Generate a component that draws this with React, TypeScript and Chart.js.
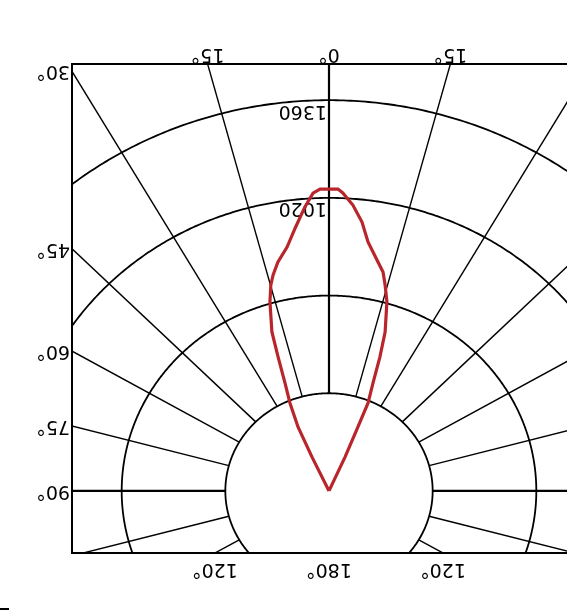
import React, { useEffect, useRef } from 'react';
import { Chart, registerables } from 'chart.js';

Chart.register(...registerables);

// Intensity rings (cd) and the radial grid step (degrees)
const ringValues = [340, 680, 1020, 1360];
const labeledRings = [1020, 1360];
const radialStep = 15;

// Angle labels placed where the radial lines meet the frame
const sideAngles = [30, 45, 60, 75, 90];
const topAngles = [-15, 0, 15];
const bottomAngles = [-120, 180, 120];

// Axis extents (cd)
const xExtent = 843;
const yMax = 1486;
const yMin = -216;

// Luminous intensity curve, left half (angles measured from the 0° axis)
const anglesLeft = [25.3, 24.5, 22.7, 21.0, 19.7, 18.7, 16.4, 14.9, 13.7, 11.9, 9.2, 6.9, 4.6, 2.9, 1.6];
const intensityLeft = [131, 245, 332, 403, 495, 584, 686, 742, 774, 814, 860, 922, 991, 1038, 1051];
// Peak
const peakAngle = 0;
const peakIntensity = 1051;
// Right half
const anglesRight = [1.6, 2.5, 4.5, 6.6, 8.4, 11.4, 13.1, 14.4, 16.1, 18.4, 19.7, 21.0, 22.7, 23.1, 24.0];
const intensityRight = [1051, 1038, 998, 942, 876, 813, 782, 740, 685, 583, 495, 403, 332, 242, 129];

const toXY = (deg: number, r: number) => {
  const t = (deg * Math.PI) / 180;
  return { x: r * Math.sin(t), y: r * Math.cos(t) };
};

const buildCurve = () => {
  const pts: { x: number; y: number }[] = [];
  pts.push(toXY(0, 0));
  anglesLeft.forEach((a, i) => pts.push(toXY(-a, intensityLeft[i])));
  pts.push(toXY(peakAngle, peakIntensity));
  anglesRight.forEach((a, i) => pts.push(toXY(a, intensityRight[i])));
  pts.push(toXY(0, 0));
  return pts;
};

const FONT = '19px "DejaVu Sans", sans-serif';

const drawRotText = (ctx: CanvasRenderingContext2D, text: string, x: number, y: number, align: 'center' | 'right') => {
  ctx.save();
  ctx.translate(x, y);
  ctx.rotate(Math.PI);
  ctx.font = FONT;
  ctx.fillStyle = '#000';
  ctx.textBaseline = 'middle';
  ctx.textAlign = align === 'center' ? 'center' : 'left';
  ctx.fillText(text, 0, 0);
  ctx.restore();
};

const gridPlugin = {
  id: 'polarGrid',
  beforeDatasetsDraw(chart: any) {
    const { ctx, chartArea: a, scales } = chart;
    const xs = scales.x;
    const ys = scales.y;
    const px = (r: number, deg: number) => {
      const p = toXY(deg, r);
      return [xs.getPixelForValue(p.x), ys.getPixelForValue(p.y)];
    };
    ctx.save();
    ctx.beginPath();
    ctx.rect(a.left, a.top, a.right - a.left, a.bottom - a.top);
    ctx.clip();
    ctx.strokeStyle = '#000';
    // rings
    ringValues.forEach((r) => {
      ctx.beginPath();
      for (let d = 0; d <= 360; d += 0.5) {
        const [x, y] = px(r, d);
        if (d === 0) ctx.moveTo(x, y);
        else ctx.lineTo(x, y);
      }
      ctx.lineWidth = 1.8;
      ctx.stroke();
    });
    // radial lines
    for (let d = 0; d < 360; d += radialStep) {
      const [x0, y0] = px(ringValues[0], d);
      const [x1, y1] = px(6000, d);
      ctx.lineWidth = d % 90 === 0 ? 2.2 : 1.4;
      ctx.beginPath();
      ctx.moveTo(x0, y0);
      ctx.lineTo(x1, y1);
      ctx.stroke();
    }
    ctx.restore();

    // frame
    ctx.save();
    ctx.strokeStyle = '#000';
    ctx.lineWidth = 2;
    ctx.strokeRect(a.left, a.top, a.right - a.left, a.bottom - a.top);
    ctx.restore();

    // ring labels
    const xc = xs.getPixelForValue(0);
    labeledRings.forEach((r) => {
      const yr = ys.getPixelForValue(r);
      drawRotText(ctx, String(r), xc - 2, yr + 10.5, 'right');
    });

    // side labels (left frame)
    sideAngles.forEach((ang) => {
      const t = (ang * Math.PI) / 180;
      const r = xExtent / Math.sin(t);
      const yv = r * Math.cos(t);
      drawRotText(ctx, `${ang}°`, a.left - 2, ys.getPixelForValue(yv), 'right');
    });
    // top labels
    topAngles.forEach((ang) => {
      const t = (ang * Math.PI) / 180;
      const r = yMax / Math.cos(t);
      const xv = r * Math.sin(t);
      drawRotText(ctx, `${Math.abs(ang)}°`, xs.getPixelForValue(xv), a.top - 10, 'center');
    });
    // bottom labels
    bottomAngles.forEach((ang) => {
      const t = (ang * Math.PI) / 180;
      const r = yMin / Math.cos(t);
      const xv = r * Math.sin(t);
      drawRotText(ctx, `${Math.abs(ang)}°`, xs.getPixelForValue(xv), a.bottom + 16, 'center');
    });

    // small mark in the lower-left corner
    ctx.save();
    ctx.strokeStyle = '#000';
    ctx.lineWidth = 2;
    ctx.beginPath();
    ctx.moveTo(0, 609);
    ctx.lineTo(9, 609);
    ctx.stroke();
    ctx.restore();
  },
};

export default function App() {
  const ref = useRef<HTMLCanvasElement | null>(null);
  useEffect(() => {
    if (!ref.current) return;
    const chart = new Chart(ref.current, {
      type: 'scatter',
      data: {
        datasets: [
          {
            data: buildCurve(),
            showLine: true,
            borderColor: '#b8262c',
            borderWidth: 3.2,
            pointRadius: 0,
            tension: 0,
            fill: false,
          },
        ],
      },
      options: {
        responsive: false,
        animation: false,
        events: [],
        layout: { padding: { left: 72, top: 64, right: 14, bottom: 62 } },
        plugins: { legend: { display: false }, tooltip: { enabled: false } },
        scales: {
          x: { type: 'linear', min: -xExtent, max: xExtent, display: false },
          y: { type: 'linear', min: yMin, max: yMax, display: false },
        },
      },
      plugins: [gridPlugin],
    });
    return () => chart.destroy();
  }, []);
  return (
    <div style={{ position: 'fixed', left: 0, top: 0, width: 567, height: 615, overflow: 'hidden', background: '#fff' }}>
      <canvas ref={ref} width={600} height={615} style={{ display: 'block', width: 600, height: 615 }} />
    </div>
  );
}
